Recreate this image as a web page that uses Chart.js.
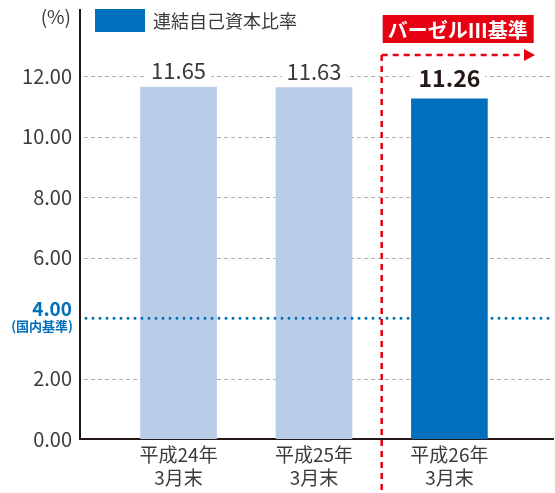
<!DOCTYPE html>
<html>
<head>
<meta charset="utf-8">
<script src="https://cdn.jsdelivr.net/npm/chart.js@4"></script>
<style>
  html, body { margin: 0; padding: 0; background: #fff; }
  #wrap { width: 555px; height: 493px; }
</style>
</head>
<body>
<div id="wrap"><canvas id="chart" width="555" height="493"></canvas></div>
<script>
const categories = [["平成24年", "3月末"], ["平成25年", "3月末"], ["平成26年", "3月末"]]
const ratios = [11.65, 11.63, 11.26]
const barColors = ["#b9cde8", "#b9cde8", "#0070bc"]
const yTicks = [0, 2, 4, 6, 8, 10, 12]
const domesticLine = 4
const baselBoundary = 1.5
const seriesName = "連結自己資本比率"
const baselLabel = "バーゼルⅢ基準"

const FONT = "'Noto Sans CJK JP', 'Noto Sans', sans-serif"
const TEXT = "#3e3a39"
const RED = "#e60012"
const BLUE = "#0070bc"

const overlay = {
    id: "overlay",
    beforeDatasetsDraw(chart) {
        // dashed grid lines
        const ctx = chart.ctx
        const y = chart.scales.y
        const area = chart.chartArea
        ctx.save()
        ctx.strokeStyle = "#b0b0b0"
        ctx.lineWidth = 1
        ctx.setLineDash([4, 3])
        for (let v of yTicks) {
            if (v == 0 || v == domesticLine) continue
            let yy = Math.round(y.getPixelForValue(v)) + 0.5
            ctx.beginPath()
            ctx.moveTo(area.left + 4, yy)
            ctx.lineTo(area.right, yy)
            ctx.stroke()
        }
        ctx.restore()
    },
    afterDraw(chart) {
        const ctx = chart.ctx
        const x = chart.scales.x
        const y = chart.scales.y
        const area = chart.chartArea
        ctx.save()

        // 国内基準 line
        let yy = y.getPixelForValue(domesticLine)
        ctx.strokeStyle = BLUE
        ctx.lineWidth = 3
        ctx.lineCap = "round"
        ctx.setLineDash([0, 7])
        ctx.beginPath()
        ctx.moveTo(area.left + 6, yy)
        ctx.lineTo(area.right, yy)
        ctx.stroke()
        ctx.setLineDash([])
        ctx.lineCap = "butt"

        ctx.fillStyle = BLUE
        ctx.textAlign = "right"
        ctx.textBaseline = "middle"
        ctx.font = "bold 19px " + FONT
        ctx.fillText("4.00", 72, yy - 9)
        ctx.font = "bold 13px " + FONT
        ctx.fillText("(国内基準)", 73, yy + 8)

        // value labels
        ctx.textAlign = "center"
        ctx.textBaseline = "middle"
        ratios.forEach((v, i) => {
            let px = x.getPixelForValue(i)
            let top = y.getPixelForValue(v)
            let last = i == ratios.length - 1
            let cy = last ? top - 21 : top - 16
            ctx.font = (last ? "bold 23px " : "22px ") + FONT
            let w = ctx.measureText(v.toFixed(2)).width
            ctx.fillStyle = "#fff"
            ctx.fillRect(px - w / 2 - 5, cy - 13, w + 10, 26)
            ctx.fillStyle = last ? "#231815" : TEXT
            ctx.fillText(v.toFixed(2), px, cy)
        })

        // Basel III boundary
        let bx = x.getPixelForValue(baselBoundary)
        ctx.strokeStyle = RED
        ctx.lineWidth = 2.5
        ctx.setLineDash([6, 5])
        ctx.beginPath()
        ctx.moveTo(bx, 55)
        ctx.lineTo(bx, chart.height)
        ctx.stroke()
        ctx.beginPath()
        ctx.moveTo(bx, 55)
        ctx.lineTo(526, 55)
        ctx.stroke()
        ctx.setLineDash([])
        ctx.fillStyle = RED
        ctx.beginPath()
        ctx.moveTo(524, 49)
        ctx.lineTo(535, 55)
        ctx.lineTo(524, 61)
        ctx.closePath()
        ctx.fill()

        ctx.fillRect(bx + 1, 15, 151, 28)
        ctx.fillStyle = "#fff"
        ctx.font = "bold 20px " + FONT
        ctx.textAlign = "center"
        ctx.fillText(baselLabel, bx + 76, 30)

        // legend and unit
        ctx.fillStyle = BLUE
        ctx.fillRect(95, 9, 50, 23)
        ctx.fillStyle = TEXT
        ctx.textAlign = "left"
        ctx.font = "18px " + FONT
        ctx.fillText(seriesName, 153, 21)
        ctx.textAlign = "right"
        ctx.font = "19px " + FONT
        ctx.fillText("(%)", 71, 17)

        ctx.restore()
    }
}

const ctx_1 = document.getElementById("chart").getContext("2d")
const chart_1 = new Chart(ctx_1, {
    type: "bar",
    data: {
        datasets: [{
            data: ratios.map((v, i) => ({ x: i, y: v })),
            backgroundColor: barColors,
            barThickness: 76
        }]
    },
    options: {
        responsive: false,
        animation: false,
        layout: { padding: { top: 10, right: 2 } },
        plugins: { legend: { display: false }, tooltip: { enabled: false } },
        scales: {
            x: {
                type: "linear",
                offset: false,
                min: -0.728,
                max: 2.765,
                afterBuildTicks: (s) => { s.ticks = categories.map((c, i) => ({ value: i })) },
                afterFit: (s) => { s.height = 54; s.paddingLeft = 0; s.paddingRight = 0 },
                grid: { display: false, drawTicks: false },
                border: { color: "#231815", width: 2 },
                ticks: {
                    autoSkip: false,
                    maxRotation: 0,
                    padding: 5,
                    color: TEXT,
                    font: { family: FONT, size: 19, lineHeight: 1.17 },
                    callback: (v) => categories[v]
                }
            },
            y: {
                min: 0,
                max: 14.2,
                afterBuildTicks: (s) => { s.ticks = yTicks.map(v => ({ value: v })) },
                afterFit: (s) => { s.width = 80; s.paddingTop = 0; s.paddingBottom = 0 },
                grid: { display: false, drawTicks: false },
                border: { color: "#231815", width: 2 },
                ticks: {
                    padding: 8,
                    color: TEXT,
                    font: { family: FONT, size: 20 },
                    callback: (v) => v == domesticLine ? "" : v.toFixed(2)
                }
            }
        }
    },
    plugins: [overlay]
})
</script>
</body>
</html>
